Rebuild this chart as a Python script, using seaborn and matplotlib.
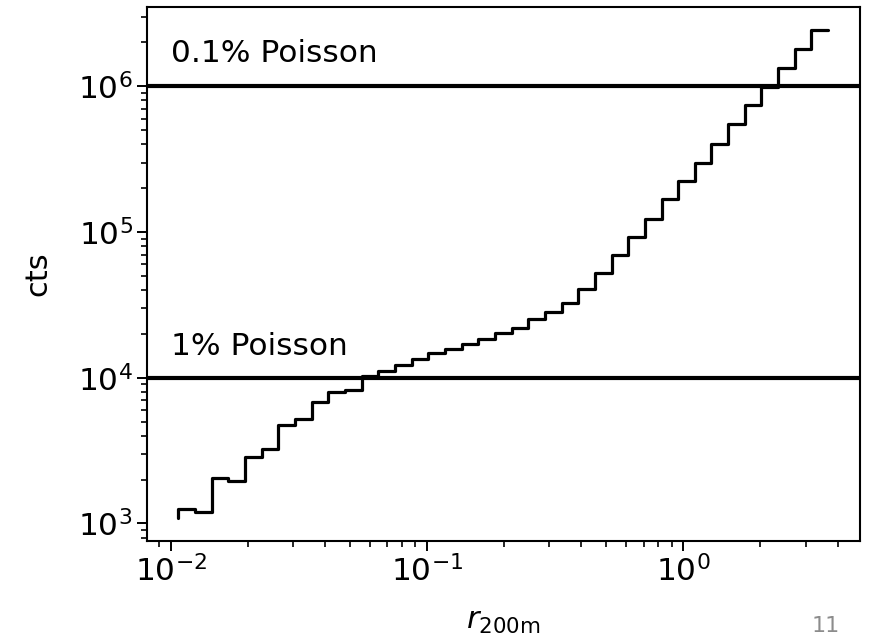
import matplotlib
matplotlib.use("Agg")
import matplotlib.pyplot as plt
import seaborn as sns
import pandas as pd

# radius values (r / r200m) at the step edges
r_edges = [0.01072, 0.01245, 0.01445, 0.01679, 0.01950, 0.02265, 0.02630, 0.03055,
           0.03548, 0.04121, 0.04786, 0.05559, 0.06457, 0.07499, 0.08710, 0.1012,
           0.1175, 0.1365, 0.1585, 0.1841, 0.2138, 0.2483, 0.2884, 0.3350,
           0.3890, 0.4519, 0.5248, 0.6095, 0.7079, 0.8222, 0.9550, 1.109,
           1.288, 1.496, 1.738, 2.018, 2.344, 2.723, 3.162, 3.673]
# counts (steps-pre: first value is the start point)
cts = [1090, 1259, 1199, 2065, 1968, 2877, 3236, 4699, 5248, 6839,
       8011, 8180, 10210, 11050, 12220, 13370, 14890, 15740, 17040, 18540,
       20150, 21960, 25430, 28100, 32600, 40900, 52500, 69700, 92700, 123800,
       168600, 224400, 299000, 403900, 548000, 740000, 995000, 1345000, 1796000, 2427000]

poisson_levels = [1e6, 1e4]
poisson_labels = ["0.1% Poisson", "1% Poisson"]
label_y = [1.46e6, 1.44e4]

sns.set_style("ticks")
plt.rcParams["font.family"] = ["DejaVu Sans"]
plt.rcParams["mathtext.fontset"] = "dejavusans"
plt.rcParams["text.color"] = "black"
plt.rcParams["axes.labelcolor"] = "black"
plt.rcParams["xtick.color"] = "black"
plt.rcParams["ytick.color"] = "black"

fig = plt.figure(figsize=(8.76, 6.43), dpi=100)
ax = fig.add_axes([0.168, 0.159, 0.814, 0.830])

df = pd.DataFrame({"r": r_edges, "cts": cts})
sns.lineplot(data=df, x="r", y="cts", ax=ax, color="black", linewidth=2.3,
             drawstyle="steps-pre", sort=False)

for lvl in poisson_levels:
    ax.axhline(lvl, color="black", linewidth=3.0)
for lbl, yy in zip(poisson_labels, label_y):
    ax.text(0.0100, yy, lbl, fontsize=22.5, ha="left", va="baseline", color="black")

ax.set_xscale("log")
ax.set_yscale("log")
ax.set_xlim(0.0081, 4.9)
ax.set_ylim(760, 3.5e6)

ax.set_xlabel(r"$r_{\rm 200m}$", fontsize=22, labelpad=14)
ax.set_ylabel("cts", fontsize=22, labelpad=18)
ax.tick_params(axis="both", which="major", labelsize=22.5, length=7, width=1.4,
               direction="out", colors="black")
ax.tick_params(axis="both", which="minor", length=4, width=1.2, direction="out", colors="black")
for s in ax.spines.values():
    s.set_linewidth(1.5)
    s.set_visible(True)
    s.set_color("black")

fig.text(0.943, 0.026, "11", fontsize=16, color="#8c8c8c", ha="center", va="center")

fig.savefig("out.png", dpi=100)
